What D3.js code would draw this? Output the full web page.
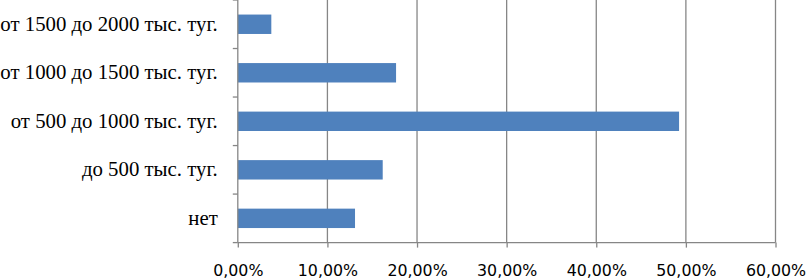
<!DOCTYPE html>
<html><head><meta charset="utf-8">
<script src="https://cdn.jsdelivr.net/npm/d3@7"></script>
<style>body{margin:0;background:#fff}svg{display:block}</style>
</head><body>
<script>
const categories = ["от 1500 до 2000 тыс. туг.","от 1000 до 1500 тыс. туг.","от 500 до 1000 тыс. туг.","до 500 тыс. туг.","нет"];
const values = [3.74, 17.66, 49.24, 16.17, 13.08];
const xTicks = [0,10,20,30,40,50,60];
const xTickLabels = ["0,00%","10,00%","20,00%","30,00%","40,00%","50,00%","60,00%"];

const W=806,H=279;
const svg=d3.select("body").append("svg").attr("width",W).attr("height",H);
const x=d3.scaleLinear().domain([0,60]).range([237.8,775.5]);
const y=d3.scaleBand().domain(categories).range([0,242.6]);
const grid="#868686";

// gridlines
svg.append("g").selectAll("line").data(xTicks.slice(1)).join("line")
  .attr("x1",d=>x(d)).attr("x2",d=>x(d)).attr("y1",0).attr("y2",y.range()[1])
  .attr("stroke",grid).attr("stroke-width",1.3);

// bars
const bh=y.bandwidth()*0.4;
svg.append("g").selectAll("rect").data(values).join("rect")
  .attr("x",x(0)).attr("width",d=>x(d)-x(0))
  .attr("y",(d,i)=>y(categories[i])+y.bandwidth()/2-bh/2).attr("height",bh)
  .attr("fill","#4F81BD");

// x axis
const xa=d3.axisBottom(x).tickValues(xTicks).tickSize(5).tickFormat((d,i)=>xTickLabels[i]);
const gx=svg.append("g").attr("transform",`translate(0,${y.range()[1]})`).call(xa);
gx.select(".domain").attr("stroke",grid).attr("stroke-width",1.3).attr("d",`M${x(0)},0H${x(60)}`);
gx.selectAll(".tick line").attr("stroke",grid).attr("stroke-width",1.3);
gx.selectAll(".tick text").attr("fill","#000").attr("font-family","DejaVu Sans").attr("font-size","15.8px").attr("dy",0).attr("y",33);

// y axis
const ya=d3.axisLeft(y).tickSize(0).tickPadding(20);
const gy=svg.append("g").attr("transform",`translate(${x(0)},0)`).call(ya);
gy.select(".domain").attr("stroke",grid).attr("stroke-width",1.3).attr("d",`M0,0V${y.range()[1]}`);
gy.selectAll(".tick text").attr("fill","#000").attr("font-family","Liberation Serif").attr("font-size","20.8px").attr("dy","0.32em");
// category boundary ticks
svg.append("g").selectAll("line").data(categories.concat([null])).join("line")
  .attr("x1",x(0)-5).attr("x2",x(0))
  .attr("y1",(d,i)=>i<categories.length?y(d):y.range()[1]).attr("y2",(d,i)=>i<categories.length?y(d):y.range()[1])
  .attr("stroke",grid).attr("stroke-width",1.3);
</script>
</body></html>
